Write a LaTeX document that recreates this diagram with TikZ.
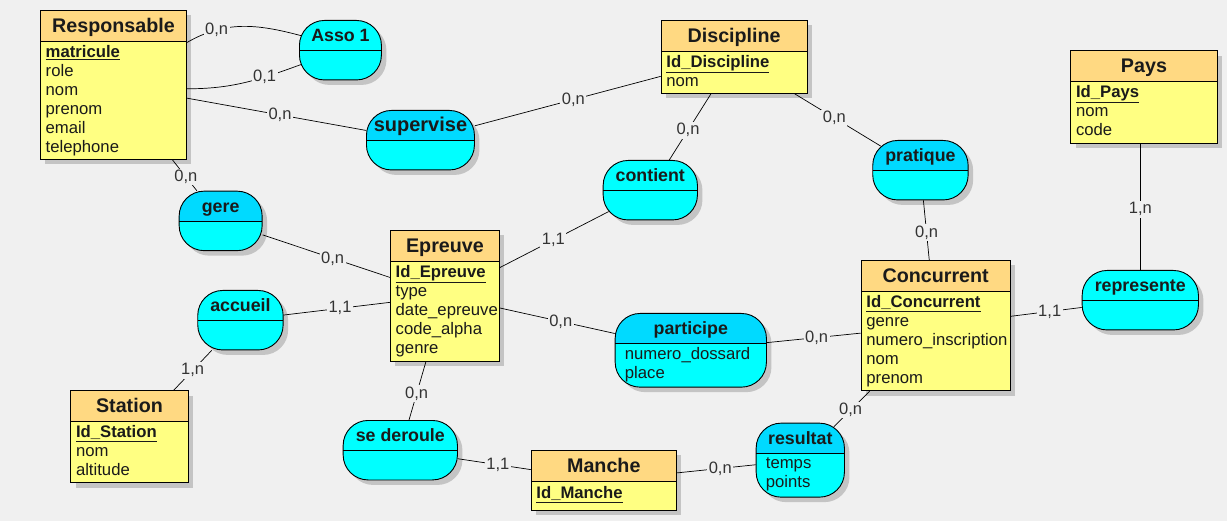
\documentclass[tikz,border=0pt]{standalone}
\usepackage{fontspec}
\setmainfont{Liberation Sans}
\usetikzlibrary{shadows}

\definecolor{fond}{HTML}{F0F0F0}
\definecolor{entete}{HTML}{FFD982}
\definecolor{corps}{HTML}{FFFF82}
\definecolor{assoclair}{HTML}{00FFFF}
\definecolor{assofonce}{HTML}{00DAFF}
\definecolor{ombre}{HTML}{C4C4C4}
\definecolor{texte}{HTML}{1A1A1A}

\begin{document}
\begin{tikzpicture}[x=1pt, y=-1pt,
    entity/.style ={draw, fill=corps, anchor=north west, inner sep=0pt, line width=0.9pt,
                    drop shadow={shadow xshift=5pt, shadow yshift=-5pt, fill=ombre, opacity=1}},
    enthead/.style ={draw, fill=entete, anchor=north, inner sep=0pt, line width=0.9pt,
                    minimum height=30.7pt, text height=12.7pt, text depth=0pt,
                    font=\fontsize{19.7}{24}\selectfont\bfseries, text=texte},
    attrs/.style ={anchor=north west, inner sep=0pt, align=left, text=texte,
                    font=\fontsize{16.7}{19}\selectfont, execute at begin node=\strut},
    assoc/.style ={draw, fill=assoclair, anchor=north west, inner sep=0pt, line width=0.9pt,
                    rounded corners=25pt, minimum height=59.5pt,
                    drop shadow={shadow xshift=5pt, shadow yshift=-5pt, fill=ombre, opacity=1},
                    path picture={
                      \fill[#1, sharp corners] (path picture bounding box.north west)
                        rectangle ([yshift=-30pt]path picture bounding box.north east);
                      \draw[line width=0.9pt] ([yshift=-30pt]path picture bounding box.north west)
                        -- ([yshift=-30pt]path picture bounding box.north east);}},
    assoc/.default=assoclair,
    asshead/.style ={anchor=north, inner sep=0pt, minimum height=30pt, text height=13pt,
                    text depth=0pt, font=\fontsize{17.8}{21}\selectfont\bfseries, text=texte},
    link/.style ={line width=0.7pt},
    card/.style ={fill=fond, inner sep=1.5pt, text=black!80, font=\fontsize{16.5}{19}\selectfont}]

   \path[use as bounding box, fill=fond] (0,0) rectangle (1227,521);

   \node[entity, minimum width=146pt, minimum height=149pt] (resp) at (40,10) {};
   \node[enthead, minimum width=146pt] (resp-h) at (resp.north) {Responsable};
   \node[attrs] (resp-a) at ([xshift=5.5pt, yshift=-3.5pt]resp-h.south west)
     {\underline{\textbf{matricule}}\\role\\nom\\prenom\\email\\telephone};

   \node[entity, minimum width=146pt, minimum height=73pt] (disc) at (660.7,20) {};
   \node[enthead, minimum width=146pt] (disc-h) at (disc.north) {Discipline};
   \node[attrs] (disc-a) at ([xshift=5.5pt, yshift=-3.5pt]disc-h.south west)
     {\underline{\textbf{Id\_Discipline}}\\nom};

   \node[entity, minimum width=109pt, minimum height=130.7pt] (epr) at (390,230) {};
   \node[enthead, minimum width=109pt] (epr-h) at (epr.north) {Epreuve};
   \node[attrs] (epr-a) at ([xshift=5.5pt, yshift=-3.5pt]epr-h.south west)
     {\underline{\textbf{Id\_Epreuve}}\\type\\date\_epreuve\\code\_alpha\\genre};

   \node[entity, minimum width=149pt, minimum height=130.3pt] (conc) at (860.7,260) {};
   \node[enthead, minimum width=149pt] (conc-h) at (conc.north) {Concurrent};
   \node[attrs] (conc-a) at ([xshift=5.5pt, yshift=-3.5pt]conc-h.south west)
     {\underline{\textbf{Id\_Concurrent}}\\genre\\numero\_inscription\\nom\\prenom};

   \node[entity, minimum width=146.4pt, minimum height=92.4pt] (pays) at (1070.3,50.3) {};
   \node[enthead, minimum width=146.4pt] (pays-h) at (pays.north) {Pays};
   \node[attrs] (pays-a) at ([xshift=5.5pt, yshift=-3.5pt]pays-h.south west)
     {\underline{\textbf{Id\_Pays}}\\nom\\code};

   \node[entity, minimum width=117.4pt, minimum height=92pt] (stat) at (70.3,390.3) {};
   \node[enthead, minimum width=117.4pt] (stat-h) at (stat.north) {Station};
   \node[attrs] (stat-a) at ([xshift=5.5pt, yshift=-3.5pt]stat-h.south west)
     {\underline{\textbf{Id\_Station}}\\nom\\altitude};

   \node[entity, minimum width=145.3pt, minimum height=60pt] (manche) at (530.7,450) {};
   \node[enthead, minimum width=145.3pt] (manche-h) at (manche.north) {Manche};
   \node[attrs] (manche-a) at ([xshift=5.5pt, yshift=-3.5pt]manche-h.south west)
     {\underline{\textbf{Id\_Manche}}};

   \node[assoc, minimum width=82pt] (asso1) at (299,20) {};
   \node[asshead] (asso1-h) at (asso1.north) {Asso 1};

   \node[assoc=assofonce, minimum width=108pt] (sup) at (366,110) {};
   \node[asshead, font=\fontsize{20}{24}\selectfont\bfseries] (sup-h) at (sup.north) {supervise};

   \node[assoc, minimum width=94.3pt] (cont) at (602.7,160) {};
   \node[asshead] (cont-h) at (cont.north) {contient};

   \node[assoc=assofonce, minimum width=95.4pt] (prat) at (872.3,140) {};
   \node[asshead] (prat-h) at (prat.north) {pratique};

   \node[assoc, minimum width=116.3pt] (repr) at (1081.7,270) {};
   \node[asshead] (repr-h) at (repr.north) {represente};

   \node[assoc=assofonce, minimum width=151.3pt, minimum height=73.7pt] (part) at (614.7,313) {};
   \node[asshead] (part-h) at (part.north) {participe};
   \node[attrs] (part-a) at ([xshift=10pt, yshift=-34.5pt]part.north west)
     {numero\_dossard\\place};

   \node[assoc, minimum width=114.3pt] (sed) at (342.7,420) {};
   \node[asshead] (sed-h) at (sed.north) {se deroule};

   \node[assoc=assofonce, minimum width=88.3pt, minimum height=74pt] (res) at (755.7,422.7) {};
   \node[asshead] (res-h) at (res.north) {resultat};
   \node[attrs] (res-a) at ([xshift=10pt, yshift=-35pt]res.north west)
     {temps\\points};

   \node[assoc=assofonce, minimum width=83pt] (gere) at (178.7,190.7) {};
   \node[asshead] (gere-h) at (gere.north) {gere};

   \node[assoc, minimum width=85.4pt] (acc) at (197.3,290) {};
   \node[asshead] (acc-h) at (acc.north) {accueil};

   \draw[link, shorten >=-2pt] (resp.30) to[out=30, in=165] node[card, pos=.27] {0,n} (asso1.160);
   \draw[link, shorten >=-2pt] (resp.-3) to[out=0, in=200] node[card, pos=.7] {0,1} (asso1.200);
   \draw[link] (resp) -- node[card, pos=.52] {0,n} (sup);
   \draw[link] (sup) -- node[card, pos=.53] {0,n} (disc);
   \draw[link] (disc) -- node[card, pos=.55] {0,n} (cont);
   \draw[link, shorten <=-6.7pt] (cont) -- node[card, pos=.48] {1,1} (epr);
   \draw[link, shorten >=-10pt] (disc) -- node[card, pos=.51] {0,n} (prat);
   \draw[link] (prat) -- node[card, pos=.54] {0,n} (conc);
   \draw[link] (pays.south -| repr.north) -- node[card, pos=.52] {1,n} (repr.north);
   \draw[link] (conc) -- node[card, pos=.55] {1,1} (repr);

   \draw[link] (part) -- node[card, pos=.53] {0,n} (conc);
   \draw[link] (epr) -- node[card, pos=.53] {0,n} (part);
   \draw[link] (epr) -- node[card, pos=.55] {0,n} (sed);
   \draw[link] (sed) -- node[card, pos=.55] {1,1} (manche);
   \draw[link] (manche) -- node[card, pos=.55] {0,n} (res);
   \draw[link, shorten <=-5.8pt] (res) -- node[card, pos=.4] {0,n} (conc);

   \draw[link] (resp) -- node[card, pos=.55] {0,n} (gere);
   \draw[link] (gere) -- node[card, pos=.55] {0,n} (epr);
   \draw[link] (acc) -- node[card, pos=.53] {1,1} (epr);
   \draw[link] (acc) -- node[card, pos=.5] {1,n} (stat);
 \end{tikzpicture}
\end{document}
